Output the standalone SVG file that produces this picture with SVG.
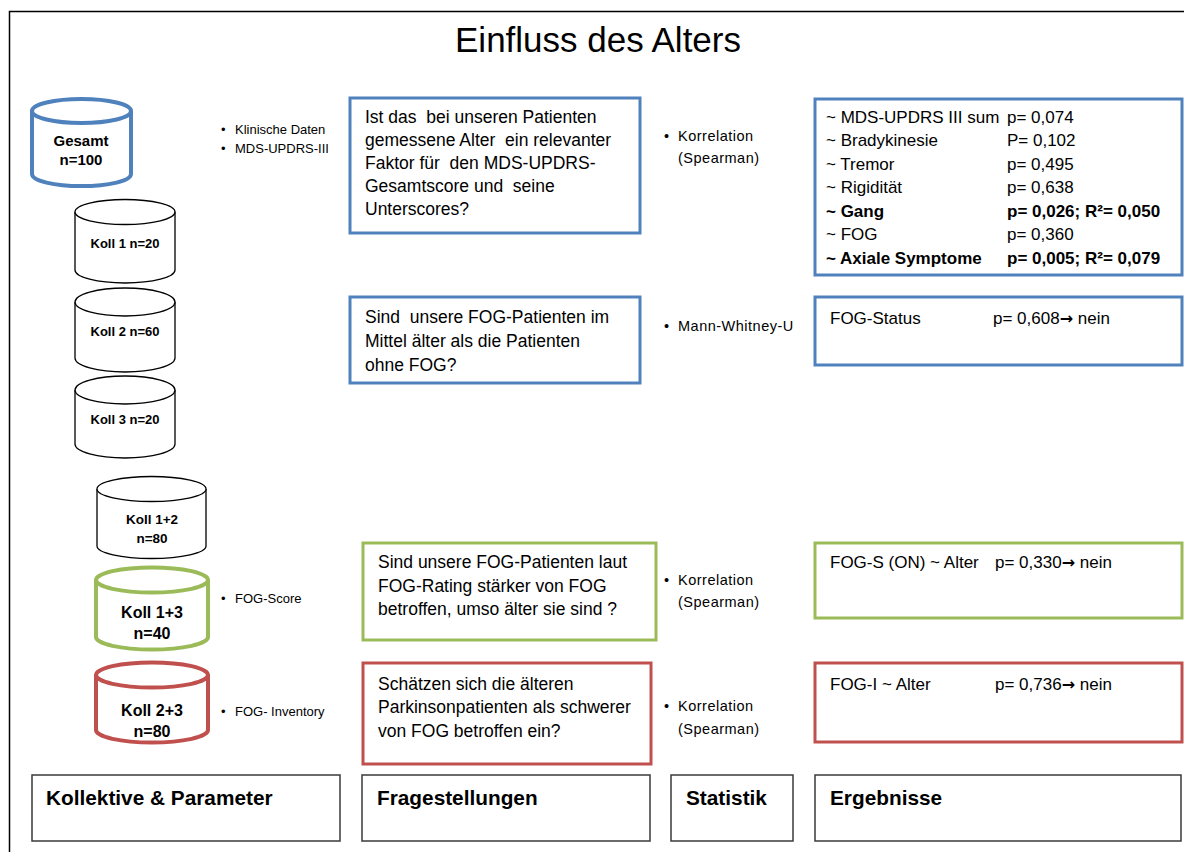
<svg xmlns="http://www.w3.org/2000/svg" width="1184" height="852" viewBox="0 0 1184 852">
  <defs>
    <style>
      text { font-family: "Liberation Sans", Arial, sans-serif; fill: #000; white-space: pre; }
      .title { font-size: 35px; text-anchor: middle; }
      .blue { stroke: #4f81bd; stroke-width: 4; fill: #fff; }
      .green { stroke: #9bbb59; stroke-width: 4; fill: #fff; }
      .red { stroke: #c0504d; stroke-width: 4; fill: #fff; }
      .plain { stroke: #000; stroke-width: 1.3; fill: #fff; }
      .box-blue { stroke: #4f81bd; stroke-width: 3; fill: #fff; }
      .box-green { stroke: #9bbb59; stroke-width: 3; fill: #fff; }
      .box-red { stroke: #c0504d; stroke-width: 3; fill: #fff; }
      .box-head { stroke: #3a3a3a; stroke-width: 1.5; fill: #fff; }
      .clabel { font-weight: bold; text-anchor: middle; }
      .q { font-size: 17.5px; }
      .r { font-size: 17px; }
      .rb { font-size: 17px; font-weight: bold; }
      .small { font-size: 13px; }
      .stat { font-size: 14.5px; letter-spacing: 0.5px; }
      .head { font-size: 20.8px; font-weight: bold; }
      .arr { font-family: "DejaVu Sans", sans-serif; font-weight: bold; font-size: 16px; }
    </style>
  </defs>

  <rect width="1184" height="852" fill="#fff"/>
  <!-- page frame -->
  <path d="M9.5 852 V11.5 H1184" fill="none" stroke="#000" stroke-width="1.5"/>

  <text class="title" x="598" y="52">Einfluss des Alters</text>

  <!-- cohorts -->
  <g id="gesamt">
    <path class="blue" d="M32 111 V174 A49 12 0 0 0 131 174 V111"/>
    <ellipse class="blue" cx="81.5" cy="111" rx="49.5" ry="12"/>
    <text class="clabel" x="81" y="146" font-size="15">Gesamt</text>
    <text class="clabel" x="81" y="165" font-size="15">n=100</text>
  </g>
  <g id="koll1">
    <path class="plain" d="M75 212 V270 A50 13 0 0 0 175 270 V212"/>
    <ellipse class="plain" cx="125" cy="212" rx="50" ry="12.5"/>
    <text class="clabel" x="125" y="248" font-size="13">Koll 1 n=20</text>
  </g>
  <g id="koll2">
    <path class="plain" d="M75 302 V358 A50 14 0 0 0 175 358 V302"/>
    <ellipse class="plain" cx="125" cy="302" rx="50" ry="14"/>
    <text class="clabel" x="125" y="336" font-size="13">Koll 2 n=60</text>
  </g>
  <g id="koll3">
    <path class="plain" d="M75 390 V444 A50 14 0 0 0 175 444 V390"/>
    <ellipse class="plain" cx="125" cy="390" rx="50" ry="14"/>
    <text class="clabel" x="125" y="424" font-size="13">Koll 3 n=20</text>
  </g>
  <g id="koll12">
    <path class="plain" d="M97 489 V546 A54.5 12.5 0 0 0 206 546 V489"/>
    <ellipse class="plain" cx="151.5" cy="489" rx="54.5" ry="12.5"/>
    <text class="clabel" x="152" y="524" font-size="13.5">Koll 1+2</text>
    <text class="clabel" x="152" y="543" font-size="13.5">n=80</text>
  </g>
  <g id="koll13">
    <path class="green" d="M96 580 V637 A56 12.5 0 0 0 208 637 V580"/>
    <ellipse class="green" cx="152" cy="580" rx="56" ry="12.5"/>
    <text class="clabel" x="152" y="618" font-size="16">Koll 1+3</text>
    <text class="clabel" x="152" y="639" font-size="16">n=40</text>
  </g>
  <g id="koll23">
    <path class="red" d="M96 675 V730 A56 12.5 0 0 0 208 730 V675"/>
    <ellipse class="red" cx="152" cy="675" rx="56" ry="12.5"/>
    <text class="clabel" x="152" y="716" font-size="16">Koll 2+3</text>
    <text class="clabel" x="152" y="737" font-size="16">n=80</text>
  </g>

  <!-- parameters -->
  <g id="params">
    <text class="small" x="221" y="134">•</text>
    <text class="small" x="235" y="134">Klinische Daten</text>
    <text class="small" x="221" y="153">•</text>
    <text class="small" x="235" y="153">MDS-UPDRS-III</text>
    <text class="small" x="221" y="603">•</text>
    <text class="small" x="235" y="603">FOG-Score</text>
    <text class="small" x="221" y="716">•</text>
    <text class="small" x="235" y="716">FOG- Inventory</text>
  </g>

  <!-- questions -->
  <g id="q1">
    <rect class="box-blue" x="350" y="98" width="290" height="135"/>
    <text class="q" x="365" y="123">Ist das  bei unseren Patienten</text>
    <text class="q" x="365" y="146">gemessene Alter  ein relevanter</text>
    <text class="q" x="365" y="169">Faktor für  den MDS-UPDRS-</text>
    <text class="q" x="365" y="192">Gesamtscore und  seine</text>
    <text class="q" x="365" y="215">Unterscores?</text>
  </g>
  <g id="q2">
    <rect class="box-blue" x="350" y="297" width="290" height="86"/>
    <text class="q" x="365" y="323">Sind  unsere FOG-Patienten im</text>
    <text class="q" x="365" y="347">Mittel älter als die Patienten</text>
    <text class="q" x="365" y="371">ohne FOG?</text>
  </g>
  <g id="q3">
    <rect class="box-green" x="363" y="543" width="293" height="97"/>
    <text class="q" x="378" y="568">Sind unsere FOG-Patienten laut</text>
    <text class="q" x="378" y="592">FOG-Rating stärker von FOG</text>
    <text class="q" x="378" y="615">betroffen, umso älter sie sind ?</text>
  </g>
  <g id="q4">
    <rect class="box-red" x="363" y="663" width="288" height="101"/>
    <text class="q" x="378" y="690">Schätzen sich die älteren</text>
    <text class="q" x="378" y="713">Parkinsonpatienten als schwerer</text>
    <text class="q" x="378" y="737">von FOG betroffen ein?</text>
  </g>

  <!-- statistics -->
  <g id="stats">
    <text class="stat" x="664" y="141">•</text>
    <text class="stat" x="678" y="141">Korrelation</text>
    <text class="stat" x="678" y="163">(Spearman)</text>
    <text class="stat" x="664" y="331">•</text>
    <text class="stat" x="678" y="331">Mann-Whitney-U</text>
    <text class="stat" x="664" y="585">•</text>
    <text class="stat" x="678" y="585">Korrelation</text>
    <text class="stat" x="678" y="607">(Spearman)</text>
    <text class="stat" x="664" y="711">•</text>
    <text class="stat" x="678" y="711">Korrelation</text>
    <text class="stat" x="678" y="734">(Spearman)</text>
  </g>

  <!-- results -->
  <g id="r1">
    <rect class="box-blue" x="815" y="99" width="367" height="176"/>
    <text class="r" x="826" y="123">~ MDS-UPDRS III sum</text>
    <text class="r" x="1007" y="123">p= 0,074</text>
    <text class="r" x="826" y="146">~ Bradykinesie</text>
    <text class="r" x="1007" y="146">P= 0,102</text>
    <text class="r" x="826" y="170">~ Tremor</text>
    <text class="r" x="1007" y="170">p= 0,495</text>
    <text class="r" x="826" y="193">~ Rigidität</text>
    <text class="r" x="1007" y="193">p= 0,638</text>
    <text class="rb" x="826" y="217">~ Gang</text>
    <text class="rb" x="1007" y="217">p= 0,026; R²= 0,050</text>
    <text class="r" x="826" y="240">~ FOG</text>
    <text class="r" x="1007" y="240">p= 0,360</text>
    <text class="rb" x="826" y="264">~ Axiale Symptome</text>
    <text class="rb" x="1007" y="264">p= 0,005; R²= 0,079</text>
  </g>
  <g id="r2">
    <rect class="box-blue" x="815" y="297" width="367" height="68"/>
    <text class="r" x="830" y="324">FOG-Status</text>
    <text class="r" x="993" y="324">p= 0,608<tspan class="arr">→</tspan> nein</text>
  </g>
  <g id="r3">
    <rect class="box-green" x="815" y="543" width="367" height="75"/>
    <text class="r" x="830" y="568">FOG-S (ON) ~ Alter</text>
    <text class="r" x="995" y="568">p= 0,330<tspan class="arr">→</tspan> nein</text>
  </g>
  <g id="r4">
    <rect class="box-red" x="815" y="663" width="367" height="79"/>
    <text class="r" x="830" y="690">FOG-I ~ Alter</text>
    <text class="r" x="995" y="690">p= 0,736<tspan class="arr">→</tspan> nein</text>
  </g>

  <!-- column headings -->
  <g id="headings">
    <rect class="box-head" x="32" y="775" width="308" height="66"/>
    <text class="head" x="46" y="805">Kollektive &amp; Parameter</text>
    <rect class="box-head" x="362" y="775" width="288" height="66"/>
    <text class="head" x="377" y="805">Fragestellungen</text>
    <rect class="box-head" x="671" y="775" width="122" height="66"/>
    <text class="head" x="686" y="805">Statistik</text>
    <rect class="box-head" x="815" y="775" width="366" height="66"/>
    <text class="head" x="830" y="805">Ergebnisse</text>
  </g>

  <g id="connectors"/>
</svg>
